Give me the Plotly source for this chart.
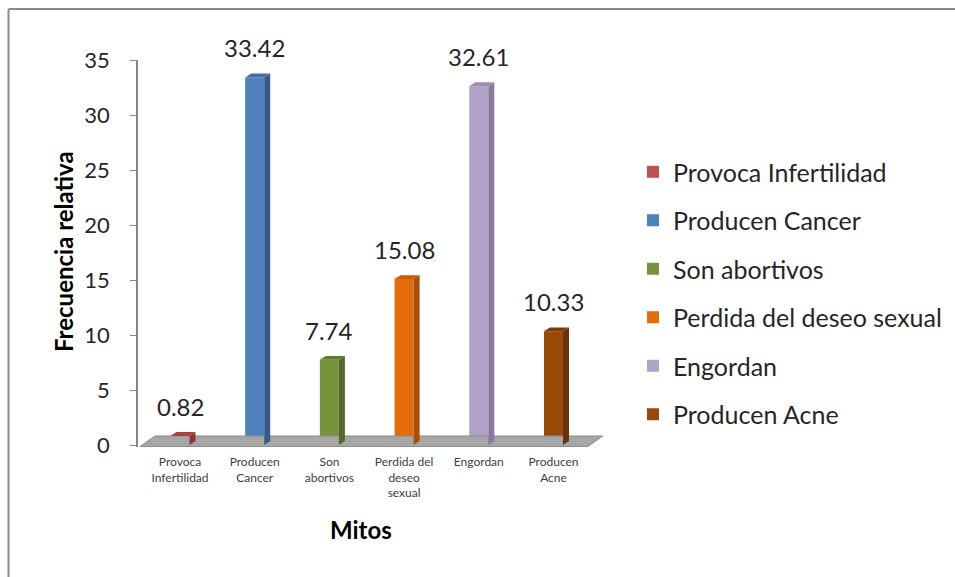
import plotly.graph_objects as go

categories = ["Provoca Infertilidad", "Producen Cancer", "Son abortivos",
              "Perdida del deseo sexual", "Engordan", "Producen Acne"]
tick_labels = ["Provoca<br>Infertilidad", "Producen<br>Cancer", "Son<br>abortivos",
               "Perdida del<br>deseo<br>sexual", "Engordan", "Producen<br>Acne"]
values = [0.82, 33.42, 7.74, 15.08, 32.61, 10.33]
front_colors = ["#c0504d", "#4f81bd", "#77933c", "#e46c0a", "#b3a2c7", "#984807"]
side_colors = ["#8c3836", "#355a8a", "#53682a", "#a84f07", "#8a7b9c", "#6a3205"]
top_colors = ["#a8413f", "#3f6da6", "#637c31", "#c75d08", "#9d8db0", "#7d3b05"]

W = 955
H = 577
px0 = 138
px1 = 610
cat0 = 180.0
step = 74.7
bw = 0.255
dx = 0.08
dy = 0.36

xr = [(px0 - cat0) / step, (px1 - cat0) / step]
yr = [-0.2, 35]
y_top_px = 60
y_bot_px = 445 + 0.2 * 11

FONT = "Lato"

fig = go.Figure()

# floor
fx = [-0.535, -0.335, 5.66, 5.46, -0.535]
fy = [-0.14, 0.82, 0.82, -0.14, -0.14]
fig.add_trace(go.Scatter(x=fx, y=fy, mode="lines", fill="toself",
                         fillcolor="#a6a6a6", line=dict(color="#8c8c8c", width=1),
                         showlegend=False, hoverinfo="skip"))

for i, (name, v) in enumerate(zip(categories, values)):
    # front face
    fig.add_trace(go.Bar(x=[i], y=[v], width=bw, name=name,
                         marker=dict(color=front_colors[i], line=dict(width=0)),
                         legendgroup=name, showlegend=True))
    r = i + bw / 2
    l = i - bw / 2
    # side face
    fig.add_trace(go.Scatter(x=[r, r + dx, r + dx, r, r], y=[0, dy, v + dy, v, 0],
                             mode="lines", fill="toself", fillcolor=side_colors[i],
                             line=dict(width=0, color=side_colors[i]),
                             showlegend=False, hoverinfo="skip"))
    # top face
    fig.add_trace(go.Scatter(x=[l, l + dx, r + dx, r, l], y=[v, v + dy, v + dy, v, v],
                             mode="lines", fill="toself", fillcolor=top_colors[i],
                             line=dict(width=0, color=top_colors[i]),
                             showlegend=False, hoverinfo="skip"))
    fig.add_annotation(x=i, y=v, text=f"{v:.2f}", showarrow=False, yanchor="bottom",
                       yshift=13, font=dict(family=FONT, size=24, color="#262626"))

fig.add_annotation(x=361 / W, y=1 - 529 / H, xref="paper", yref="paper", text="<b>Mitos</b>",
                   xanchor="center", yanchor="middle",
                   showarrow=False, font=dict(family=FONT, size=24, color="#000000"))
fig.add_annotation(x=63 / W, y=1 - 252 / H, xref="paper", yref="paper",
                   text="<b>Frecuencia relativa</b>", textangle=-90,
                   xanchor="center", yanchor="middle",
                   showarrow=False, font=dict(family=FONT, size=24, color="#000000"))

# outer border (top and left)
fig.add_shape(type="line", xref="paper", yref="paper", x0=8.5 / W, x1=1, y0=1 - 9 / H, y1=1 - 9 / H,
              line=dict(color="#8a8a8a", width=2))
fig.add_shape(type="line", xref="paper", yref="paper", x0=8.5 / W, x1=8.5 / W, y0=0, y1=1 - 9 / H,
              line=dict(color="#8a8a8a", width=2))

fig.update_layout(
    width=W, height=H,
    margin=dict(l=0, r=0, t=0, b=0, autoexpand=False),
    paper_bgcolor="white", plot_bgcolor="white",
    barmode="overlay",
    showlegend=True,
    legend=dict(x=633 / W, y=1 - 149 / H, xanchor="left", yanchor="top",
                font=dict(family=FONT, size=25, color="#262626"),
                tracegroupgap=13, bgcolor="rgba(0,0,0,0)"),
    xaxis=dict(domain=[px0 / W, px1 / W], range=xr, tickvals=list(range(len(tick_labels))),
               ticktext=tick_labels, showgrid=False, zeroline=False, showline=False,
               automargin=False, ticks="", ticklabelstandoff=6,
               tickfont=dict(family=FONT, size=12, color="#404040")),
    yaxis=dict(domain=[1 - y_bot_px / H, 1 - y_top_px / H], range=yr,
               tickvals=[0, 5, 10, 15, 20, 25, 30, 35], showgrid=False, zeroline=False,
               automargin=False,
               showline=True, linecolor="#868686", linewidth=1.5, ticks="outside",
               ticklen=6, tickcolor="#868686", ticklabelstandoff=16,
               tickfont=dict(family=FONT, size=22, color="#262626")),
)

fig.write_html("out.html")
